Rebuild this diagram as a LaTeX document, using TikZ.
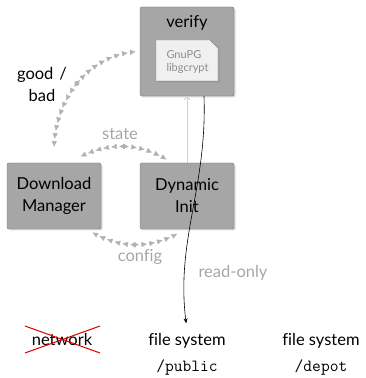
\documentclass[tikz,border=0pt]{standalone}
\usepackage{fontspec}
\setmainfont{Lato}[Ligatures=NoCommon]
\usetikzlibrary{arrows.meta,decorations.markings,shadows}

\tikzset{
  box/.style={draw=black!55, fill=black!35, rounded corners=2pt, minimum width=94pt,
    align=center, drop shadow={shadow xshift=1.5pt, shadow yshift=-1.5pt, opacity=0.3}},
  docbox/.style={draw=black!50, fill=black!6,
    drop shadow={shadow xshift=1.5pt, shadow yshift=-1.5pt, opacity=0.35}},
  faint/.style={text=black!35},
  flowarrows/.style={postaction={decorate}, decoration={markings,
    mark=between positions 0.03 and 0.5 step 8pt with {\arrowreversed[black!30]{Triangle[length=5.5pt,width=5pt]}},
    mark=between positions 0.53 and 1 step 8pt with {\arrow[black!30]{Triangle[length=5.5pt,width=5pt]}}}}
}

\begin{document}
\begin{tikzpicture}[x=1pt, y=1pt, font=\fontsize{16.5}{22}\selectfont]
  \useasboundingbox (0,0) rectangle (365,378);

  % boxes
  \node[box, minimum height=89pt] (verify) at (187,326.5) {};
  \node[anchor=base] (verifytitle) at (187,350) {verify};
  \node[box, minimum height=66pt] (dm) at (54,182) {Download\\Manager};
  \node[box, minimum height=66pt] (init) at (187,182) {Dynamic\\Init};

  % crypto library inside verify
  \path[docbox] (156,297) -- (156,338) -- (210,338) -- (218,330) -- (218,297) -- cycle;
  \node[text=black!45, align=left, font=\fontsize{11}{13}\selectfont] (gpg) at (187.5,316) {GnuPG\\libgcrypt};

  % exchanges
  \path[flowarrows] (verify.west) to[out=182, in=90] ([yshift=12pt]dm.north);
  \path[flowarrows] ([shift={(-23pt,5pt)}]dm.north east) to[bend left=30] ([xshift=-15pt]init.north);
  \path[flowarrows] ([shift={(36pt,-2pt)}]dm.south) to[bend right=30] ([shift={(-5pt,-2pt)}]init.south);
  \node[faint, anchor=base] (statelabel) at (120,238) {state};
  \node[faint, anchor=base] (configlabel) at (140,116) {config};
  \node[align=center] (goodbad) at (42,294) {good\hspace{6pt}/\\bad};

  \draw[black!18, line width=0.8pt, -{Straight Barb[length=3pt,width=6pt]}] (init.north) -- (verify.south);

  % targets
  \node[anchor=base] (net) at (62,32) {network};
  \node[anchor=base] (fspub) at (187,32) {file system};
  \node[anchor=base] (fsdepot) at (321,32) {file system};
  \node[anchor=base] (pub) at (187,6) {\ttfamily\fontsize{17}{20}\selectfont /public};
  \node[anchor=base] (depot) at (321,6) {\ttfamily\fontsize{17}{20}\selectfont /depot};
  \draw[red!85!black, line width=1pt] ([shift={(-37pt,-13pt)}]net.center) -- ([shift={(38pt,14pt)}]net.center);
  \draw[red!85!black, line width=1pt] ([shift={(-37pt,14pt)}]net.center) -- ([shift={(38pt,-13pt)}]net.center);

  \draw[line width=0.6pt, shorten >=7pt, -{Stealth[length=5pt,width=4pt]}] ([xshift=17pt]verify.south) to[out=-88, in=97] (fspub.north);
  \node[faint, anchor=base] (rolabel) at (233,100) {read-only};
\end{tikzpicture}
\end{document}
